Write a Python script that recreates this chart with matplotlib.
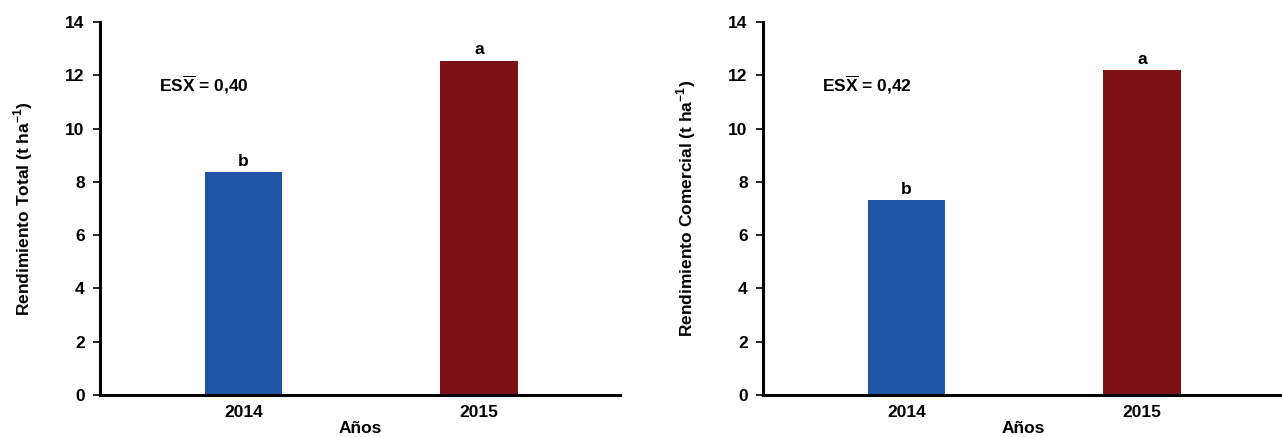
import matplotlib.pyplot as plt
import numpy as np

plt.rcParams['font.family'] = ['Liberation Sans', 'DejaVu Sans']
plt.rcParams['mathtext.fontset'] = 'custom'
plt.rcParams['mathtext.bf'] = 'Liberation Sans:bold'
plt.rcParams['mathtext.rm'] = 'Liberation Sans:bold'

################################################## Data
years = ["2014", "2015"]
total_yield = [8.37, 12.55]
commercial_yield = [7.32, 12.18]
total_letters = ["b", "a"]
commercial_letters = ["b", "a"]
es_total = "0,40"
es_commercial = "0,42"

bar_colors = ["#1f55a5", "#7a1216"]

################################################## Plot
fig = plt.figure(figsize=(12.82, 4.37), dpi=100)
W, H = 1282, 437

ax_left = fig.add_axes([100 / W, 42 / H, 520 / W, 373 / H])
ax_right = fig.add_axes([763 / W, 42 / H, 520 / W, 373 / H])

FS = 12.5


def draw_panel(ax, values, letters, es_value, y_label):
    x = np.arange(len(years))
    ax.bar(x, values, width=0.33, color=bar_colors, zorder=2)

    for xi, v, lt in zip(x, values, letters):
        ax.text(xi, v + 0.12, lt, ha="center", va="bottom",
                fontsize=FS, fontweight="bold")

    ax.text(-0.36, 11.65, r"ES$\overline{\mathbf{X}}$ = " + es_value,
            ha="left", va="center", fontsize=FS, fontweight="bold")

    ax.set_xlim(-0.61, 1.6)
    ax.set_ylim(0, 14)
    ax.set_yticks(range(0, 15, 2))
    ax.set_xticks(x)
    ax.set_xticklabels(years)

    for side in ["top", "right"]:
        ax.spines[side].set_visible(False)
    for side in ["left", "bottom"]:
        ax.spines[side].set_linewidth(2.2)

    ax.tick_params(axis="y", direction="out", length=5, width=1.2,
                   labelsize=FS, pad=6)
    ax.tick_params(axis="x", length=0, labelsize=FS, pad=7)
    for lbl in ax.get_xticklabels() + ax.get_yticklabels():
        lbl.set_fontweight("bold")

    ax.set_ylabel(y_label, fontsize=FS, fontweight="bold", labelpad=22)
    ax.set_xlabel("Años", fontsize=FS, fontweight="bold", labelpad=1)


draw_panel(ax_left, total_yield, total_letters, es_total,
           r"Rendimiento Total (t ha$^{\mathbf{-1}}$)")
draw_panel(ax_right, commercial_yield, commercial_letters, es_commercial,
           r"Rendimiento Comercial (t ha$^{\mathbf{-1}}$)")

plt.savefig("out.png", dpi=100)
